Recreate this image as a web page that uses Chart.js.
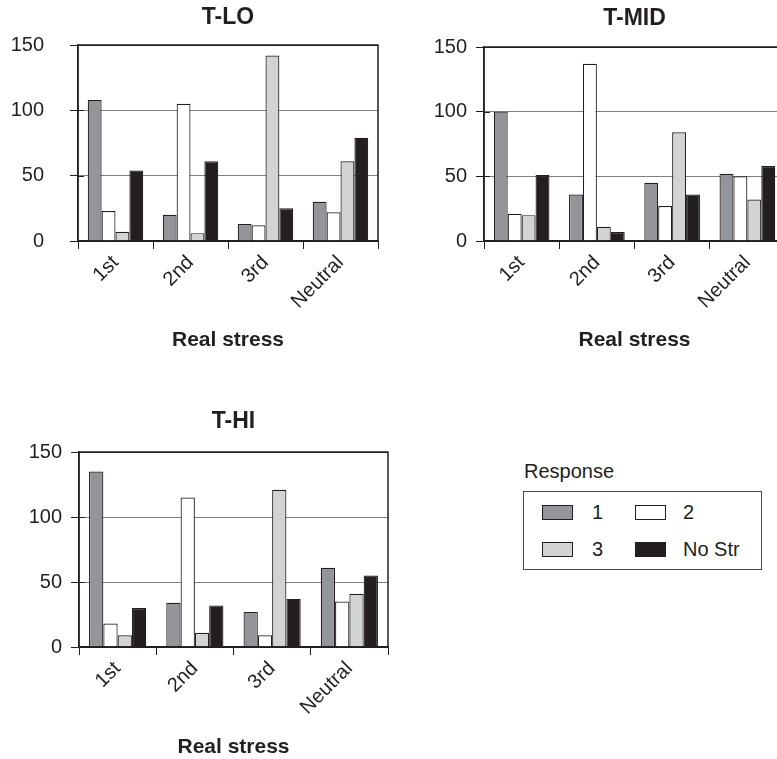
<!DOCTYPE html>
<html>
<head>
<meta charset="utf-8">
<script src="https://cdn.jsdelivr.net/npm/chart.js@4.4.1/dist/chart.umd.min.js"></script>
<style>
html,body{margin:0;padding:0;background:#fff;}
body{position:relative;width:777px;height:759px;overflow:hidden;font-family:"Liberation Sans",Arial,Helvetica,sans-serif;color:#231f20;}
canvas{position:absolute;}
#legTitle{position:absolute;left:524px;top:459px;font-size:20px;line-height:24px;}
#legBox{position:absolute;left:523px;top:491px;width:237px;height:77px;border:1px solid #4a4a4a;}
.sw{position:absolute;width:29px;height:13px;border:1px solid #231f20;}
.lt{position:absolute;font-size:20px;line-height:24px;}
</style>
</head>
<body>
<canvas id="cLo" width="400" height="360" style="left:0;top:0"></canvas>
<canvas id="cMid" width="420" height="360" style="left:390px;top:0"></canvas>
<canvas id="cHi" width="410" height="370" style="left:0;top:400px"></canvas>
<div id="legTitle">Response</div>
<div id="legBox"></div>
<script>
// ---- data ----
const categories = ['1st', '2nd', '3rd', 'Neutral'];
const seriesNames = ['1', '2', '3', 'No Str'];
const yTicks = [0, 50, 100, 150];

const tLo1  = [108, 20, 13, 30];
const tLo2  = [23, 105, 12, 22];
const tLo3  = [7, 6, 142, 61];
const tLoNo = [54, 61, 25, 79];

const tMid1  = [100, 36, 45, 52];
const tMid2  = [21, 137, 27, 50];
const tMid3  = [20, 11, 84, 32];
const tMidNo = [51, 7, 36, 58];

const tHi1  = [135, 34, 27, 61];
const tHi2  = [18, 115, 9, 35];
const tHi3  = [9, 11, 121, 41];
const tHiNo = [30, 32, 37, 55];

// ---- styles ----
const INK = '#231f20';
const fills = ['#939598', '#ffffff', '#d1d3d4', '#231f20'];
const FONT = '"Liberation Sans", Arial, Helvetica, sans-serif';

const frame = {
  id: 'frame',
  afterDatasetsDraw(chart) {
    const a = chart.chartArea, c = chart.ctx;
    c.save();
    c.strokeStyle = INK;
    c.lineWidth = 1.5;
    c.strokeRect(a.left, a.top, a.right - a.left, a.bottom - a.top);
    const y = chart.scales.y;
    c.lineWidth = 1;
    yTicks.forEach(v => {
      const py = Math.round(y.getPixelForValue(v)) + 0.5;
      c.beginPath(); c.moveTo(a.left, py); c.lineTo(a.left + 6, py); c.stroke();
    });
    c.restore();
  }
};

function makeChart(id, title, series, g) {
  const datasets = series.map((d, i) => ({
    label: seriesNames[i],
    data: d,
    backgroundColor: fills[i],
    borderColor: INK,
    borderWidth: 1.2,
    borderSkipped: 'start',
    categoryPercentage: 0.74,
    barPercentage: 1.0
  }));
  return new Chart(document.getElementById(id), {
    type: 'bar',
    data: { labels: categories, datasets },
    plugins: [frame],
    options: {
      responsive: false,
      animation: false,
      events: [],
      layout: { padding: { left: 0, right: g.padRight, top: 0, bottom: 0 } },
      plugins: {
        legend: { display: false },
        tooltip: { enabled: false },
        title: {
          display: true, text: title, fullSize: false, color: INK,
          font: { family: FONT, size: 23, weight: 'bold' },
          padding: { top: g.titleTop, bottom: g.titleBottom }
        }
      },
      scales: {
        x: {
          grid: { display: true, drawOnChartArea: false, drawTicks: true, tickLength: 8, color: INK, offset: true },
          border: { display: true, color: INK, width: 1.5 },
          ticks: { minRotation: 45, maxRotation: 45, color: INK, padding: 2, font: { family: FONT, size: 20 } },
          title: {
            display: true, text: 'Real stress', color: INK,
            font: { family: FONT, size: 21, weight: 'bold' },
            padding: { top: 0, bottom: g.xTitleBottom }
          },
          afterFit: s => { s.height = g.xHeight; }
        },
        y: {
          min: yTicks[0], max: yTicks[yTicks.length - 1],
          afterBuildTicks: s => { s.ticks = yTicks.map(v => ({ value: v })); },
          grid: {
            color: c => (c.tick && (c.tick.value === 0 || c.tick.value === 150)) ? INK : '#808080',
            lineWidth: 1, tickLength: 8, tickColor: INK
          },
          border: { display: true, color: INK, width: 1.5 },
          ticks: { color: INK, padding: g.yPad, font: { family: FONT, size: 20 } },
          afterFit: s => { s.width = g.yWidth; }
        }
      }
    }
  });
}

makeChart('cLo', 'T-LO', [tLo1, tLo2, tLo3, tLoNo],
  { padRight: 22, titleTop: 4, titleBottom: 13.4, xHeight: 119, xTitleBottom: 7, yWidth: 78, yPad: 26 });
makeChart('cMid', 'T-MID', [tMid1, tMid2, tMid3, tMidNo],
  { padRight: 25, titleTop: 5, titleBottom: 14.4, xHeight: 119, xTitleBottom: 7, yWidth: 94, yPad: 9 });
makeChart('cHi', 'T-HI', [tHi1, tHi2, tHi3, tHiNo],
  { padRight: 22, titleTop: 8, titleBottom: 16.4, xHeight: 123, xTitleBottom: 10, yWidth: 79, yPad: 9 });

// ---- legend (html, built from the series arrays) ----
const legPos = [
  { sx: 542, sy: 505, tx: 592, ty: 500 },
  { sx: 635, sy: 505, tx: 683, ty: 500 },
  { sx: 542, sy: 542, tx: 592, ty: 537 },
  { sx: 635, sy: 542, tx: 683, ty: 537 }
];
seriesNames.forEach((n, i) => {
  const s = document.createElement('div');
  s.className = 'sw';
  s.style.left = legPos[i].sx + 'px'; s.style.top = legPos[i].sy + 'px';
  s.style.background = fills[i];
  document.body.appendChild(s);
  const t = document.createElement('div');
  t.className = 'lt'; t.textContent = n;
  t.style.left = legPos[i].tx + 'px'; t.style.top = legPos[i].ty + 'px';
  document.body.appendChild(t);
});
</script>
</body>
</html>
